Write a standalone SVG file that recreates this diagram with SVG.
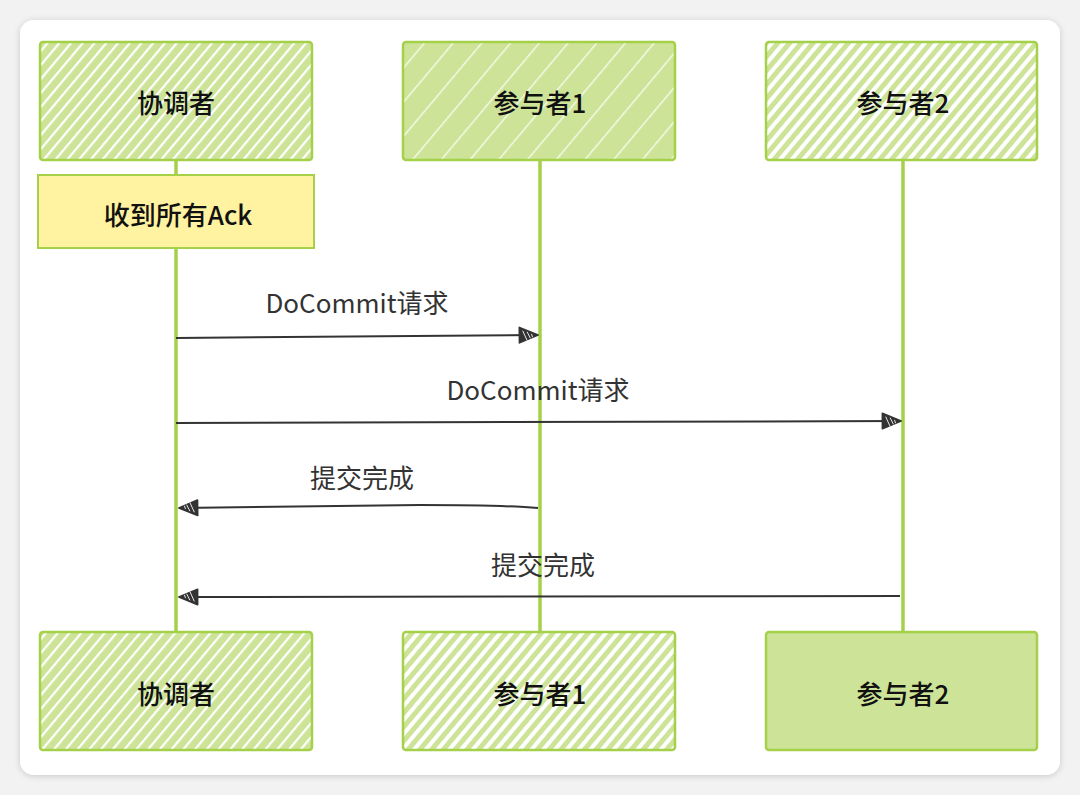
<svg xmlns="http://www.w3.org/2000/svg" width="1080" height="795" viewBox="0 0 1080 795">
<defs>
<pattern id="hatchA" patternUnits="userSpaceOnUse" width="9" height="9" patternTransform="rotate(40)">
<rect width="9" height="9" fill="#cde498"/>
<rect x="0" width="2.2" height="9" fill="#ffffff"/>
</pattern>
<pattern id="hatchB" patternUnits="userSpaceOnUse" width="22" height="22" patternTransform="rotate(40)">
<rect width="22" height="22" fill="#cde498"/>
<rect x="0" width="1.4" height="22" fill="#ffffff" opacity="0.8"/>
</pattern>
<pattern id="hatchC" patternUnits="userSpaceOnUse" width="9" height="9" patternTransform="rotate(40)">
<rect width="9" height="9" fill="#ffffff"/>
<rect x="0" width="5" height="9" fill="#cde498"/>
</pattern>
<marker id="arr" viewBox="0 0 20 20" refX="18" refY="10" markerWidth="22" markerHeight="22" markerUnits="userSpaceOnUse" orient="auto">
<path d="M2,3 L19,10 L2,17 Z" fill="#333" stroke="#333" stroke-width="1.5" stroke-linejoin="round"/>
<path d="M5,6 L9,15 M9,7 L12,13 M13,9 L14,12" stroke="#fff" stroke-width="0.8"/>
</marker>
<filter id="sh" x="-5%" y="-5%" width="110%" height="110%">
<feDropShadow dx="0" dy="1" stdDeviation="3" flood-color="#000" flood-opacity="0.18"/>
</filter>
</defs>
<style>
.box{stroke:#a5d04a;stroke-width:2.5;}
.life{stroke:#a5d04a;stroke-width:3.5;fill:none;}
.msg{stroke:#333;stroke-width:2;fill:none;}
.t{font-family:"Noto Sans CJK SC","Noto Sans",sans-serif;font-size:26px;font-weight:500;fill:#111;text-anchor:middle;dominant-baseline:central;}
.lbl{font-family:"Noto Sans CJK SC","Noto Sans",sans-serif;font-size:26px;fill:#333;text-anchor:middle;dominant-baseline:central;}
</style>
<rect width="1080" height="795" fill="#f2f2f2"/>
<rect x="20" y="20" width="1040" height="755" rx="14" fill="#ffffff" filter="url(#sh)"/>
<g id="lifelines" class="life">
<line x1="176" y1="160" x2="176" y2="632"/>
<line x1="540" y1="160" x2="540" y2="632"/>
<line x1="903" y1="160" x2="903" y2="632"/>
</g>
<g id="coord-top"><rect class="box" x="40" y="42" width="272" height="118" rx="3" fill="url(#hatchA)"/><text class="t" x="176" y="101">协调者</text></g>
<g id="p1-top"><rect class="box" x="403" y="42" width="272" height="118" rx="3" fill="url(#hatchB)"/><text class="t" x="540" y="101">参与者1</text></g>
<g id="p2-top"><rect class="box" x="766" y="42" width="271" height="118" rx="3" fill="url(#hatchC)"/><text class="t" x="903" y="101">参与者2</text></g>
<g id="ack"><rect x="38" y="175" width="276" height="73" fill="#fff2a0" stroke="#a5d04a" stroke-width="2"/><text class="t" x="178" y="213">收到所有Ack</text></g>
<g id="connectors">
<path class="msg" d="M176,338 L537,335" marker-end="url(#arr)"/>
<path class="msg" d="M176,423 L900,421" marker-end="url(#arr)"/>
<path class="msg" d="M538,508 Q500,505 420,505 L180,508" marker-end="url(#arr)"/>
<path class="msg" d="M900,596 L180,597" marker-end="url(#arr)"/>
</g>
<text class="lbl" x="357" y="301">DoCommit请求</text>
<text class="lbl" x="538" y="388">DoCommit请求</text>
<text class="lbl" x="362" y="476">提交完成</text>
<text class="lbl" x="543" y="563">提交完成</text>
<g id="coord-bot"><rect class="box" x="40" y="632" width="272" height="118" rx="3" fill="url(#hatchA)"/><text class="t" x="176" y="692">协调者</text></g>
<g id="p1-bot"><rect class="box" x="403" y="632" width="272" height="118" rx="3" fill="url(#hatchC)"/><text class="t" x="540" y="692">参与者1</text></g>
<g id="p2-bot"><rect class="box" x="766" y="632" width="271" height="118" rx="3" fill="#cde498"/><text class="t" x="903" y="692">参与者2</text></g>
</svg>
